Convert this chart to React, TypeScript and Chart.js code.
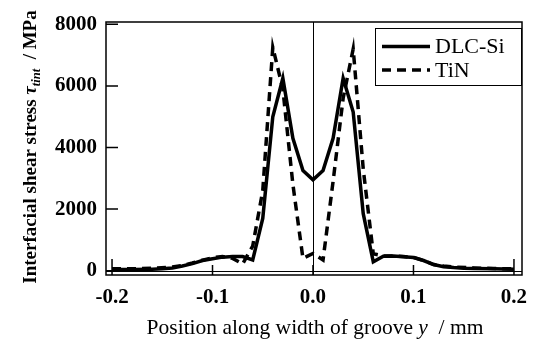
import React, { useEffect, useRef } from "react";
import { Chart, registerables } from "chart.js";

Chart.register(...registerables);

const xTickValues = [-0.2, -0.1, 0, 0.1, 0.2];
const yTickValues = [0, 2000, 4000, 6000, 8000];

const dlcPositions = [
  -0.2, -0.18, -0.16, -0.15, -0.14, -0.13, -0.12, -0.11, -0.1, -0.09, -0.08, -0.07, -0.06, -0.05, -0.04, -0.03, -0.02, -0.01,
  0, 0.01, 0.02, 0.03, 0.04, 0.05, 0.06, 0.07, 0.08, 0.09, 0.1, 0.11, 0.12, 0.13, 0.14, 0.15, 0.16, 0.18, 0.2,
];
const dlcStress = [
  40, 40, 50, 60, 90, 150, 230, 330, 390, 440, 460, 460, 350, 1700, 5000, 6250, 4300, 3250,
  2950, 3250, 4300, 6250, 5150, 1850, 290, 470, 480, 450, 430, 330, 200, 130, 100, 80, 70, 60, 50,
];

const tinPositions = [
  -0.2, -0.18, -0.16, -0.14, -0.13, -0.12, -0.11, -0.1, -0.09, -0.08, -0.07, -0.06, -0.05, -0.04, -0.03, -0.02, -0.01,
  0, 0.01, 0.02, 0.03, 0.04, 0.05, 0.06, 0.07, 0.08, 0.09, 0.1, 0.11, 0.12, 0.13, 0.14, 0.16, 0.18, 0.2,
];
const tinStress = [
  60, 60, 80, 120, 170, 250, 340, 420, 460, 400, 220, 800, 2600, 7250, 5900, 2800, 400,
  560, 350, 2900, 5600, 7200, 3300, 550, 480, 480, 460, 430, 330, 200, 150, 120, 90, 70, 60,
];

const seriesNames = ["DLC-Si", "TiN"];

const SERIF = '"Liberation Serif", "Times New Roman", serif';

type Part = { t: string; font: string; dy?: number };

function drawParts(ctx: CanvasRenderingContext2D, parts: Part[], cx: number, baseline: number) {
  let total = 0;
  for (const p of parts) {
    ctx.font = p.font;
    total += ctx.measureText(p.t).width;
  }
  let x = cx - total / 2;
  ctx.textBaseline = "alphabetic";
  ctx.textAlign = "left";
  for (const p of parts) {
    ctx.font = p.font;
    ctx.fillText(p.t, x, baseline + (p.dy || 0));
    x += ctx.measureText(p.t).width;
  }
}

const decorPlugin = {
  id: "decor",
  beforeDatasetsDraw(chart: any) {
    const { ctx, chartArea, scales } = chart;
    const xs = scales.x;
    const ys = scales.y;
    ctx.save();
    ctx.strokeStyle = "#000";
    ctx.lineWidth = 1;
    const x0 = Math.round(xs.getPixelForValue(0)) + 0.5;
    ctx.beginPath();
    ctx.moveTo(x0, chartArea.top);
    ctx.lineTo(x0, chartArea.bottom);
    const y0 = Math.round(ys.getPixelForValue(0)) + 0.5;
    ctx.moveTo(chartArea.left, y0);
    ctx.lineTo(chartArea.right, y0);
    ctx.stroke();
    ctx.restore();
  },
  afterDatasetsDraw(chart: any) {
    const { ctx, chartArea, scales } = chart;
    const xs = scales.x;
    const ys = scales.y;
    ctx.save();
    ctx.strokeStyle = "#000";
    ctx.fillStyle = "#000";
    // frame
    ctx.lineWidth = 1.5;
    ctx.strokeRect(chartArea.left, chartArea.top, chartArea.right - chartArea.left, chartArea.bottom - chartArea.top);
    // inner ticks
    ctx.lineWidth = 1.5;
    ctx.beginPath();
    for (const v of yTickValues) {
      const y = ys.getPixelForValue(v);
      ctx.moveTo(chartArea.left, y);
      ctx.lineTo(chartArea.left + 12, y);
    }
    for (const v of xTickValues) {
      const x = xs.getPixelForValue(v);
      const len = Math.abs(v) > 0.15 ? 16 : 10;
      ctx.moveTo(x, chartArea.bottom);
      ctx.lineTo(x, chartArea.bottom - len);
    }
    ctx.stroke();

    // legend
    const lx = 375, ly = 28, lw = 146, lh = 57;
    ctx.fillStyle = "#fff";
    ctx.fillRect(lx, ly, lw, lh);
    ctx.lineWidth = 1;
    ctx.strokeRect(lx + 0.5, ly + 0.5, lw, lh);
    ctx.fillStyle = "#000";
    ctx.lineWidth = 3.5;
    const rows = [46.5, 70];
    rows.forEach((ry, i) => {
      ctx.setLineDash(i === 1 ? [9, 6] : []);
      ctx.beginPath();
      ctx.moveTo(382, ry);
      ctx.lineTo(430, ry);
      ctx.stroke();
      ctx.setLineDash([]);
      ctx.font = `22px ${SERIF}`;
      ctx.textBaseline = "middle";
      ctx.textAlign = "left";
      ctx.fillText(seriesNames[i], 435, ry + 1);
    });

    // x title
    drawParts(
      ctx,
      [
        { t: "Position along width of groove ", font: `21.5px ${SERIF}` },
        { t: "y", font: `italic 21.5px ${SERIF}` },
        { t: "  / mm", font: `21.5px ${SERIF}` },
      ],
      315,
      334
    );

    // y title
    ctx.translate(36, 147);
    ctx.rotate(-Math.PI / 2);
    drawParts(
      ctx,
      [
        { t: "Interfacial shear stress ", font: `bold 19px ${SERIF}` },
        { t: "τ", font: `italic bold 19px ${SERIF}` },
        { t: "tint", font: `italic bold 12.5px ${SERIF}`, dy: 4 },
        { t: "  / MPa", font: `bold 19px ${SERIF}` },
      ],
      0,
      0
    );
    ctx.restore();
  },
};

export default function App() {
  const ref = useRef<HTMLCanvasElement | null>(null);
  useEffect(() => {
    if (!ref.current) return;
    const chart = new Chart(ref.current, {
      type: "line",
      data: {
        datasets: [
          {
            label: seriesNames[0],
            data: dlcPositions.map((x, i) => ({ x, y: dlcStress[i] })),
            borderColor: "#000",
            borderWidth: 3.5,
            pointRadius: 0,
            tension: 0,
            fill: false,
          },
          {
            label: seriesNames[1],
            data: tinPositions.map((x, i) => ({ x, y: tinStress[i] })),
            borderColor: "#000",
            borderWidth: 3.5,
            borderDash: [9, 6],
            pointRadius: 0,
            tension: 0,
            fill: false,
          },
        ],
      },
      options: {
        animation: false,
        responsive: false,
        devicePixelRatio: 1,
        layout: { padding: { left: 0, right: 21, top: 22, bottom: 0 } },
        plugins: { legend: { display: false }, tooltip: { enabled: false } },
        scales: {
          x: {
            type: "linear",
            min: -0.206,
            max: 0.208,
            grid: { display: false, drawTicks: false },
            border: { display: false },
            afterBuildTicks: (s: any) => {
              s.ticks = xTickValues.map((v) => ({ value: v }));
            },
            afterFit: (s: any) => {
              s.height = 65;
            },
            ticks: {
              color: "#000",
              padding: 10,
              maxRotation: 0,
              font: { family: SERIF, size: 21, weight: "bold" },
              callback: (v: any) => Number(v).toFixed(1),
            },
          },
          y: {
            type: "linear",
            min: -140,
            max: 8075,
            grid: { display: false, drawTicks: false },
            border: { display: false },
            afterBuildTicks: (s: any) => {
              s.ticks = yTickValues.map((v) => ({ value: v }));
            },
            afterFit: (s: any) => {
              s.width = 106;
            },
            ticks: {
              color: "#000",
              padding: 9,
              font: { family: SERIF, size: 21, weight: "bold" },
              callback: (v: any) => String(v),
            },
          },
        },
      },
      plugins: [decorPlugin],
    });
    return () => chart.destroy();
  }, []);
  return (
    <div style={{ position: "fixed", left: 0, top: 0, width: 543, height: 340, background: "#fff" }}>
      <canvas ref={ref} width={543} height={340} style={{ width: 543, height: 340, display: "block" }} />
    </div>
  );
}
